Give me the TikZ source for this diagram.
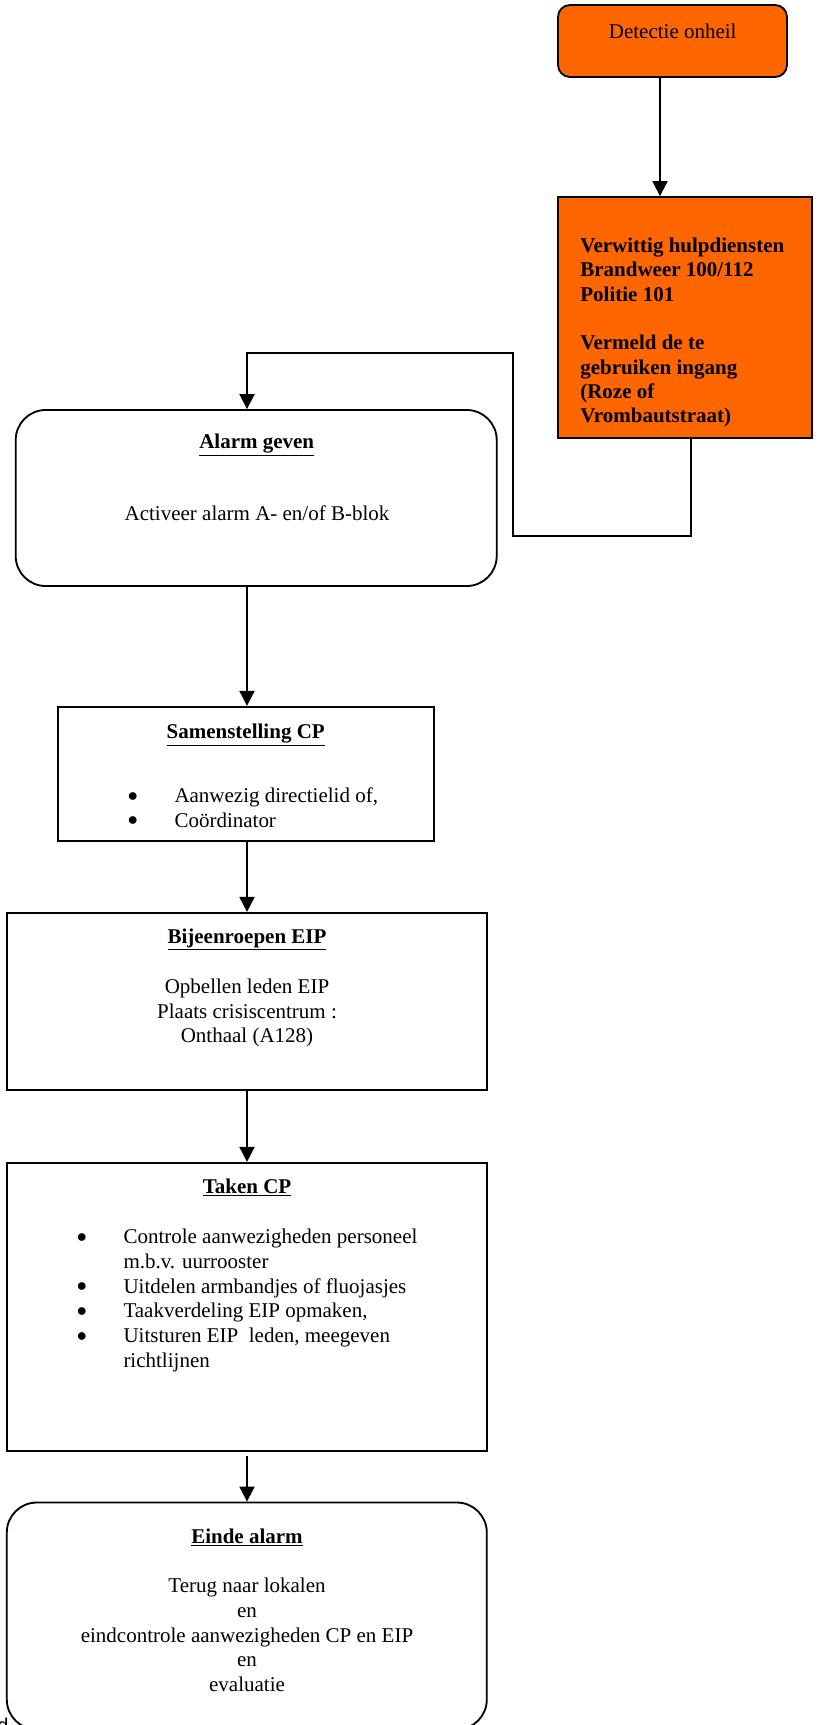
\documentclass[tikz,border=0pt]{standalone}
\usepackage{fontspec}
\setmainfont{Liberation Serif}
\setsansfont{Liberation Sans}
\usetikzlibrary{arrows.meta}
\usetikzlibrary{positioning}
\definecolor{oranje}{HTML}{FF6600}
\tikzset{
    box/.style={
           rectangle,
           draw=black, line width=1.1pt,
           inner sep=0,
           },
    rbox/.style={
           box,
           rounded corners=18pt,
           },
    obox/.style={
           box,
           fill=oranje,
           },
    pil/.style={
           -{Triangle[length=9pt,width=9pt]},
           line width=1.1pt,
           },
    txt/.style={
           inner sep=0,
           font=\fontsize{12.6pt}{14.8pt}\selectfont,
           },
    vet/.style={
           inner sep=0,
           font=\fontsize{12.6pt}{14.6pt}\selectfont\bfseries,
           }
}
\newcommand{\bol}{\makebox[28pt][l]{\raisebox{0.8pt}{$\bullet$}}}
\newcommand{\ins}{\hspace*{28pt}}

\begin{document}
\begin{tikzpicture}[x=0.6pt,y=-0.6pt]
\useasboundingbox (0,0) rectangle (822,1725);
% blokken
\node (detect) at (672.5,41) [obox, rounded corners=7.2pt, minimum width=137.4pt, minimum height=43.2pt] {};
\node (verw) at (685,317.5) [obox, minimum width=152.4pt, minimum height=144.6pt] {};
\node (alarm) at (256.2,498) [rbox, minimum width=288.6pt, minimum height=105.6pt] {};
\node (samen) at (245.8,773.8) [box, minimum width=225.6pt, minimum height=80.4pt] {};
\node (bijeen) at (246.8,1001.3) [box, minimum width=288pt, minimum height=106.2pt] {};
\node (taken) at (246.8,1306.8) [box, minimum width=288pt, minimum height=172.8pt] {};
\node (einde) at (246.8,1616) [rbox, minimum width=288pt, minimum height=136.2pt] {};
% teksten
\node (t-detect) at (672.7,38.3) [txt, anchor=base] {Detectie onheil};
\node (t-verw) at (580,237.5) [vet, anchor=north west, align=left] {Verwittig hulpdiensten\\Brandweer 100/112\\Politie 101\\[14.6pt]Vermeld de te\\gebruiken ingang\\(Roze of\\Vrombautstraat)};
\node (k-alarm) at (256.7,448) [txt, anchor=base] {\underline{\textbf{Alarm geven}}};
\node (t-alarm) at (257,520) [txt, anchor=base] {Activeer alarm A- en/of B-blok};
\node (k-samen) at (245.7,738) [txt, anchor=base] {\underline{\textbf{Samenstelling CP}}};
\node (t-samen) at (127.5,787.5) [txt, anchor=north west, align=left] {\bol Aanwezig directielid of,\\\bol Coördinator};
\node (k-bijeen) at (247,943) [txt, anchor=base] {\underline{\textbf{Bijeenroepen EIP}}};
\node (t-bijeen) at (247,978.5) [txt, anchor=north, align=center] {Opbellen leden EIP\\Plaats crisiscentrum :\\Onthaal (A128)};
\node (k-taken) at (247,1193) [txt, anchor=base] {\underline{\textbf{Taken CP}}};
\node (t-taken) at (76.5,1229) [txt, anchor=north west, align=left] {\bol Controle aanwezigheden personeel\\\ins m.b.v. uurrooster\\\bol Uitdelen armbandjes of fluojasjes\\\bol Taakverdeling EIP opmaken,\\\bol Uitsturen EIP\ \ leden, meegeven\\\ins richtlijnen};
\node (k-einde) at (247,1543) [txt, anchor=base] {\underline{\textbf{Einde alarm}}};
\node (t-einde) at (247,1578) [txt, anchor=north, align=center] {Terug naar lokalen\\en\\eindcontrole aanwezigheden CP en EIP\\en\\evaluatie};
\node (voet) at (-3,1732) [txt, anchor=base west, font=\fontsize{12pt}{14pt}\sffamily] {d};
% verbindingen
\coordinate (kol) at (247,0);
\coordinate (hoek1) at (513,536);
\coordinate (hoek2) at (513,353);
\draw[pil] ([xshift=-7.5pt]detect.south) -- ([xshift=-7.5pt]detect.south |- verw.north);
\draw[pil] ([xshift=3.6pt]verw.south) |- (hoek1) -- (hoek2) -| (kol |- alarm.north);
\draw[pil] (kol |- alarm.south) -- (kol |- samen.north);
\draw[pil] (kol |- samen.south) -- (kol |- bijeen.north);
\draw[pil] (kol |- bijeen.south) -- (kol |- taken.north);
\draw[pil, shorten <=2.4pt] (kol |- taken.south) -- (kol |- einde.north);
\end{tikzpicture}
\end{document}
